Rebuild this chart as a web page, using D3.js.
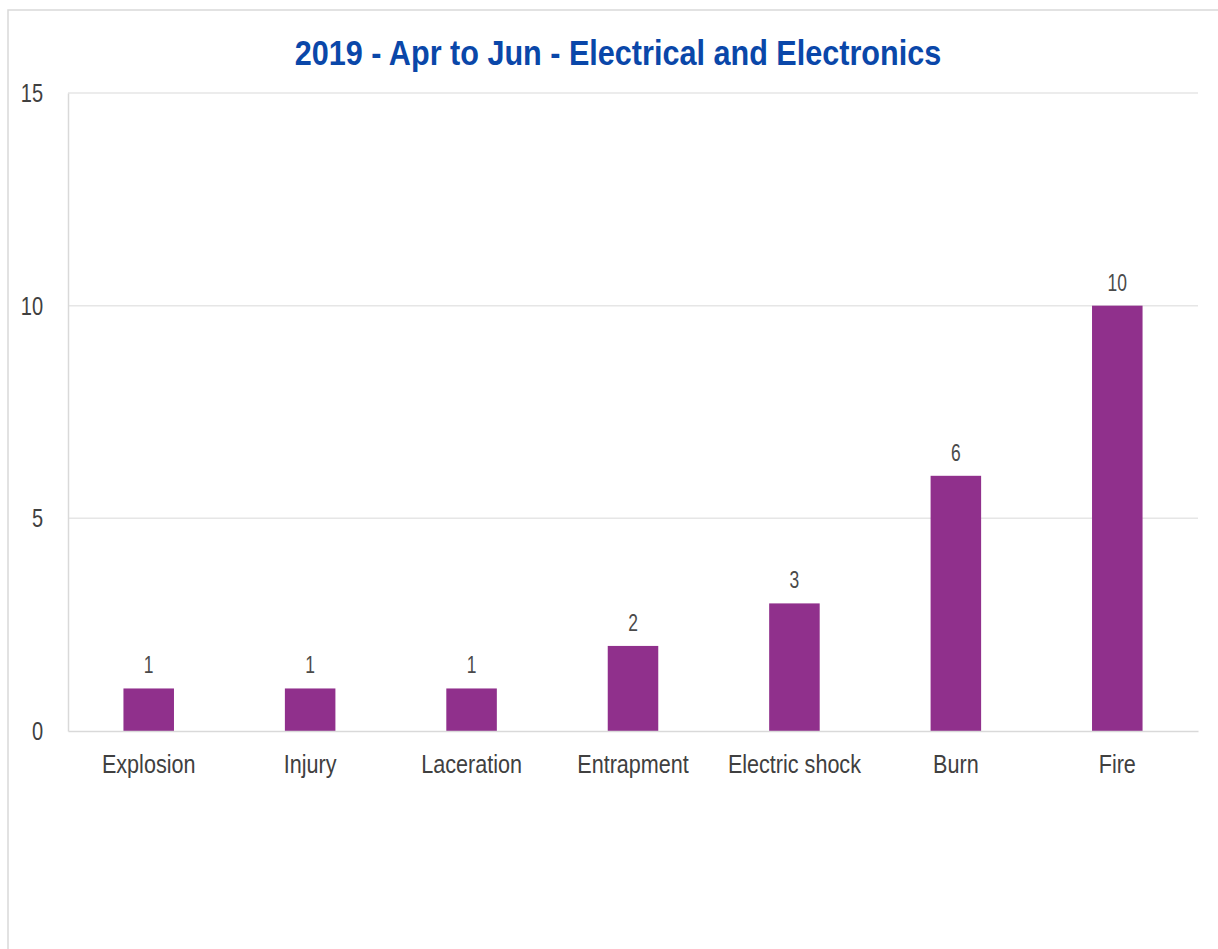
<!DOCTYPE html>
<html>
<head>
<meta charset="utf-8">
<script src="https://cdn.jsdelivr.net/npm/d3@7"></script>
<style>
    body { margin: 0; background: #fff; }
    svg text { font-family: "Liberation Sans", Arial, sans-serif; }
</style>
</head>
<body>
<div id="chart"></div>
<script>
// chart data
let categories = ["Explosion", "Injury", "Laceration", "Entrapment", "Electric shock", "Burn", "Fire"];
let counts = [1, 1, 1, 2, 3, 6, 10];
let yTicks = [0, 5, 10, 15];
let title = "2019 - Apr to Jun - Electrical and Electronics";

let width = 1218, height = 949;
let margin = { top: 93, right: 20, bottom: 218, left: 68 };

// no narrow font installed, so squeeze the text horizontally around its anchor
function squeeze(sel, s) {
    sel.each(function() {
        let t = d3.select(this);
        let x0 = +t.attr("x") || 0;
        t.attr("transform", `translate(${x0 * (1 - s)}, 0) scale(${s}, 1)`);
    });
}

let svg = d3.select("#chart").append("svg")
    .attr("width", width)
    .attr("height", height);

// outer chart border
svg.append("rect")
    .attr("x", 8)
    .attr("y", 10)
    .attr("width", width + 20)
    .attr("height", height + 20)
    .attr("fill", "none")
    .attr("stroke", "#d9d9d9")
    .attr("stroke-width", 1.5);

// title
svg.append("text")
    .attr("x", 618)
    .attr("y", 65)
    .attr("text-anchor", "middle")
    .attr("fill", "#0a47a9")
    .style("font-size", "36px")
    .style("font-weight", "bold")
    .text(title)
    .call(squeeze, 0.85);

let plotW = width - margin.left - margin.right;
let plotH = height - margin.top - margin.bottom;

let g = svg.append("g")
    .attr("transform", `translate(${margin.left}, ${margin.top})`);

let x = d3.scaleBand()
    .domain(categories)
    .range([0, plotW])
    .paddingInner(0.687)
    .paddingOuter(0.687 / 2);

let y = d3.scaleLinear()
    .domain([0, 15])
    .range([plotH, 0]);

// gridlines
g.selectAll(".grid")
    .data(yTicks.filter(d => d > 0))
    .enter()
    .append("line")
    .attr("class", "grid")
    .attr("x1", 0)
    .attr("x2", plotW)
    .attr("y1", d => y(d))
    .attr("y2", d => y(d))
    .attr("stroke", "#e6e6e6")
    .attr("stroke-width", 1.5);

// y axis
let yAxis = g.append("g")
    .call(d3.axisLeft(y).tickValues(yTicks).tickSize(0).tickPadding(25));
yAxis.select(".domain").attr("stroke", "#d9d9d9").attr("stroke-width", 1.5);
yAxis.selectAll("text")
    .attr("fill", "#404040")
    .style("font-size", "26px")
    .call(squeeze, 0.77);

// bars
g.selectAll(".bar")
    .data(counts)
    .enter()
    .append("rect")
    .attr("class", "bar")
    .attr("x", (d, i) => x(categories[i]))
    .attr("y", d => y(d))
    .attr("width", x.bandwidth())
    .attr("height", d => plotH - y(d))
    .attr("fill", "#90308c");

// x axis
let xAxis = g.append("g")
    .attr("transform", `translate(0, ${plotH})`)
    .call(d3.axisBottom(x).tickSize(0).tickPadding(24));
xAxis.select(".domain").attr("stroke", "#d9d9d9").attr("stroke-width", 1.5);
xAxis.selectAll("text")
    .attr("fill", "#404040")
    .style("font-size", "26px")
    .call(squeeze, 0.83);

// value labels
g.selectAll(".value")
    .data(counts)
    .enter()
    .append("text")
    .attr("class", "value")
    .attr("x", (d, i) => x(categories[i]) + x.bandwidth() / 2)
    .attr("y", d => y(d) - 15)
    .attr("text-anchor", "middle")
    .attr("fill", "#4a4a4a")
    .style("font-size", "23px")
    .text(d => d)
    .call(squeeze, 0.76);
</script>
</body>
</html>
